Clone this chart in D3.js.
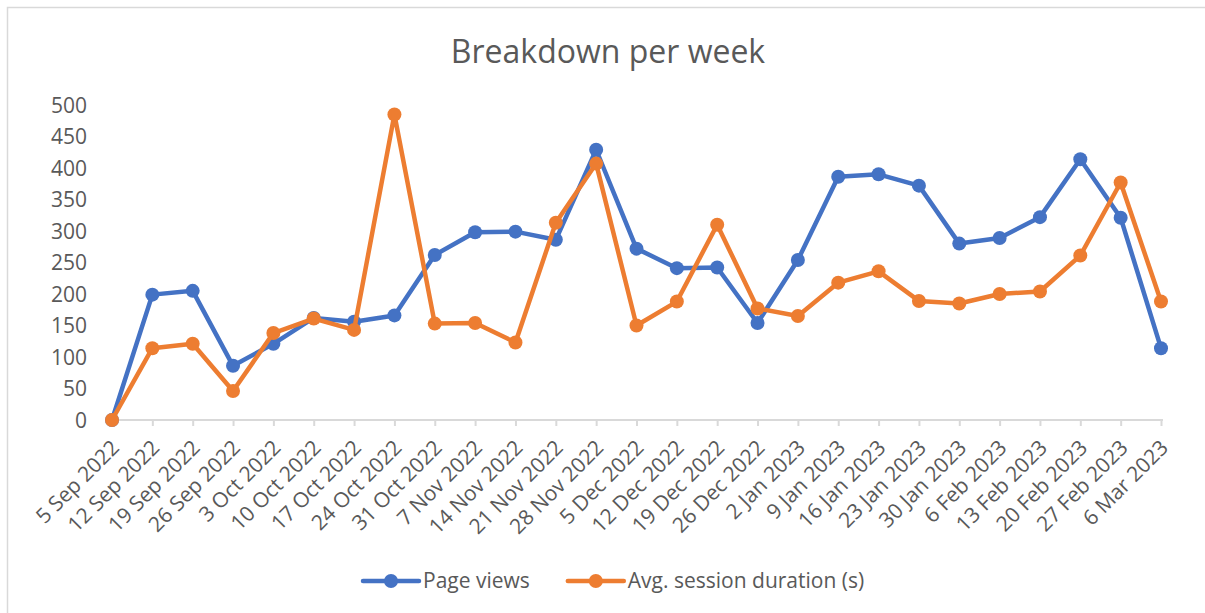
<!DOCTYPE html>
<html>
<head>
  <meta charset='utf-8'>
  <title>Breakdown per week</title>
  <script src="https://cdn.jsdelivr.net/npm/d3@7"></script>
  <style>
    html, body {
      margin: 0;
      padding: 0;
      background: #fff;
    }
    svg text {
      font-family: "Open Sans", sans-serif;
      fill: #595959;
    }
  </style>
</head>
<body>
<svg id="chart" width="1205" height="613"></svg>
<script>
var weeks = ['5 Sep 2022', '12 Sep 2022', '19 Sep 2022', '26 Sep 2022', '3 Oct 2022', '10 Oct 2022',
  '17 Oct 2022', '24 Oct 2022', '31 Oct 2022', '7 Nov 2022', '14 Nov 2022', '21 Nov 2022',
  '28 Nov 2022', '5 Dec 2022', '12 Dec 2022', '19 Dec 2022', '26 Dec 2022', '2 Jan 2023',
  '9 Jan 2023', '16 Jan 2023', '23 Jan 2023', '30 Jan 2023', '6 Feb 2023', '13 Feb 2023',
  '20 Feb 2023', '27 Feb 2023', '6 Mar 2023'];

var pageViews = [0, 199, 205, 86, 121, 162, 156, 166, 262, 298, 299, 286, 429, 272, 241, 242,
  154, 254, 386, 390, 372, 280, 289, 322, 414, 321, 114];

var sessionDuration = [0, 114, 121, 46, 138, 161, 143, 485, 153, 154, 123, 313, 407, 150, 188, 310,
  177, 165, 218, 236, 189, 185, 200, 204, 261, 377, 188];

var yTicks = [0, 50, 100, 150, 200, 250, 300, 350, 400, 450, 500];

var series = [
  {name: 'Page views', values: pageViews, color: '#4472C4'},
  {name: 'Avg. session duration (s)', values: sessionDuration, color: '#ED7D31'}
];

var svg = d3.select('#chart');

// outer chart frame (only top/left edges fall inside the picture)
svg.append('rect')
  .attr('x', 7.5).attr('y', 7.5)
  .attr('width', 1300).attr('height', 700)
  .attr('fill', 'none')
  .attr('stroke', '#d9d9d9')
  .attr('stroke-width', 1.5);

var x = d3.scalePoint()
  .domain(weeks)
  .range([112, 1161]);

var y = d3.scaleLinear()
  .domain([0, 500])
  .range([420, 105]);

// title
svg.append('text')
  .attr('x', 608)
  .attr('y', 63)
  .attr('text-anchor', 'middle')
  .style('font-size', '32px')
  .text('Breakdown per week');

// y axis labels (no line, no gridlines)
var yAxis = d3.axisLeft(y).tickValues(yTicks).tickSize(0).tickPadding(0);
var gy = svg.append('g')
  .attr('transform', 'translate(87,0)')
  .call(yAxis);
gy.select('.domain').remove();
gy.selectAll('text')
  .style('font-size', '21px')
  .attr('fill', '#595959')
  .attr('dy', '0.35em');

// x axis
var xAxis = d3.axisBottom(x).tickSize(6).tickSizeOuter(0);
var gx = svg.append('g')
  .attr('transform', 'translate(0,' + y(0) + ')')
  .call(xAxis);
gx.select('.domain')
  .attr('stroke', '#d9d9d9')
  .attr('stroke-width', 2)
  .attr('d', 'M112,0H1163');
gx.selectAll('.tick line')
  .attr('stroke', '#d9d9d9')
  .attr('stroke-width', 2);
gx.selectAll('.tick text')
  .style('font-size', '21px')
  .attr('fill', '#595959')
  .attr('text-anchor', 'end')
  .attr('dy', null)
  .attr('y', 0)
  .attr('transform', 'translate(8,29) rotate(-45)');

// lines + markers
var line = d3.line()
  .x(function (d, i) { return x(weeks[i]); })
  .y(function (d) { return y(d); });

series.forEach(function (s) {
  var g = svg.append('g');
  g.append('path')
    .datum(s.values)
    .attr('d', line)
    .attr('fill', 'none')
    .attr('stroke', s.color)
    .attr('stroke-width', 4.5)
    .attr('stroke-linejoin', 'round')
    .attr('stroke-linecap', 'round');
  g.selectAll('circle')
    .data(s.values)
    .enter().append('circle')
    .attr('cx', function (d, i) { return x(weeks[i]); })
    .attr('cy', function (d) { return y(d); })
    .attr('r', 7)
    .attr('fill', s.color);
});

// legend
var legend = svg.append('g').attr('transform', 'translate(0,581)');
var lx = 363;
series.forEach(function (s) {
  var item = legend.append('g').attr('transform', 'translate(' + lx + ',0)');
  item.append('line')
    .attr('x1', 0).attr('x2', 56)
    .attr('y1', 0).attr('y2', 0)
    .attr('stroke', s.color)
    .attr('stroke-width', 4.5)
    .attr('stroke-linecap', 'round');
  item.append('circle')
    .attr('cx', 28).attr('cy', 0).attr('r', 7)
    .attr('fill', s.color);
  var t = item.append('text')
    .attr('x', 60)
    .attr('dy', '0.35em')
    .style('font-size', '21px')
    .text(s.name);
  lx += 60 + t.node().getComputedTextLength() + 38;
});
</script>
</body>
</html>
